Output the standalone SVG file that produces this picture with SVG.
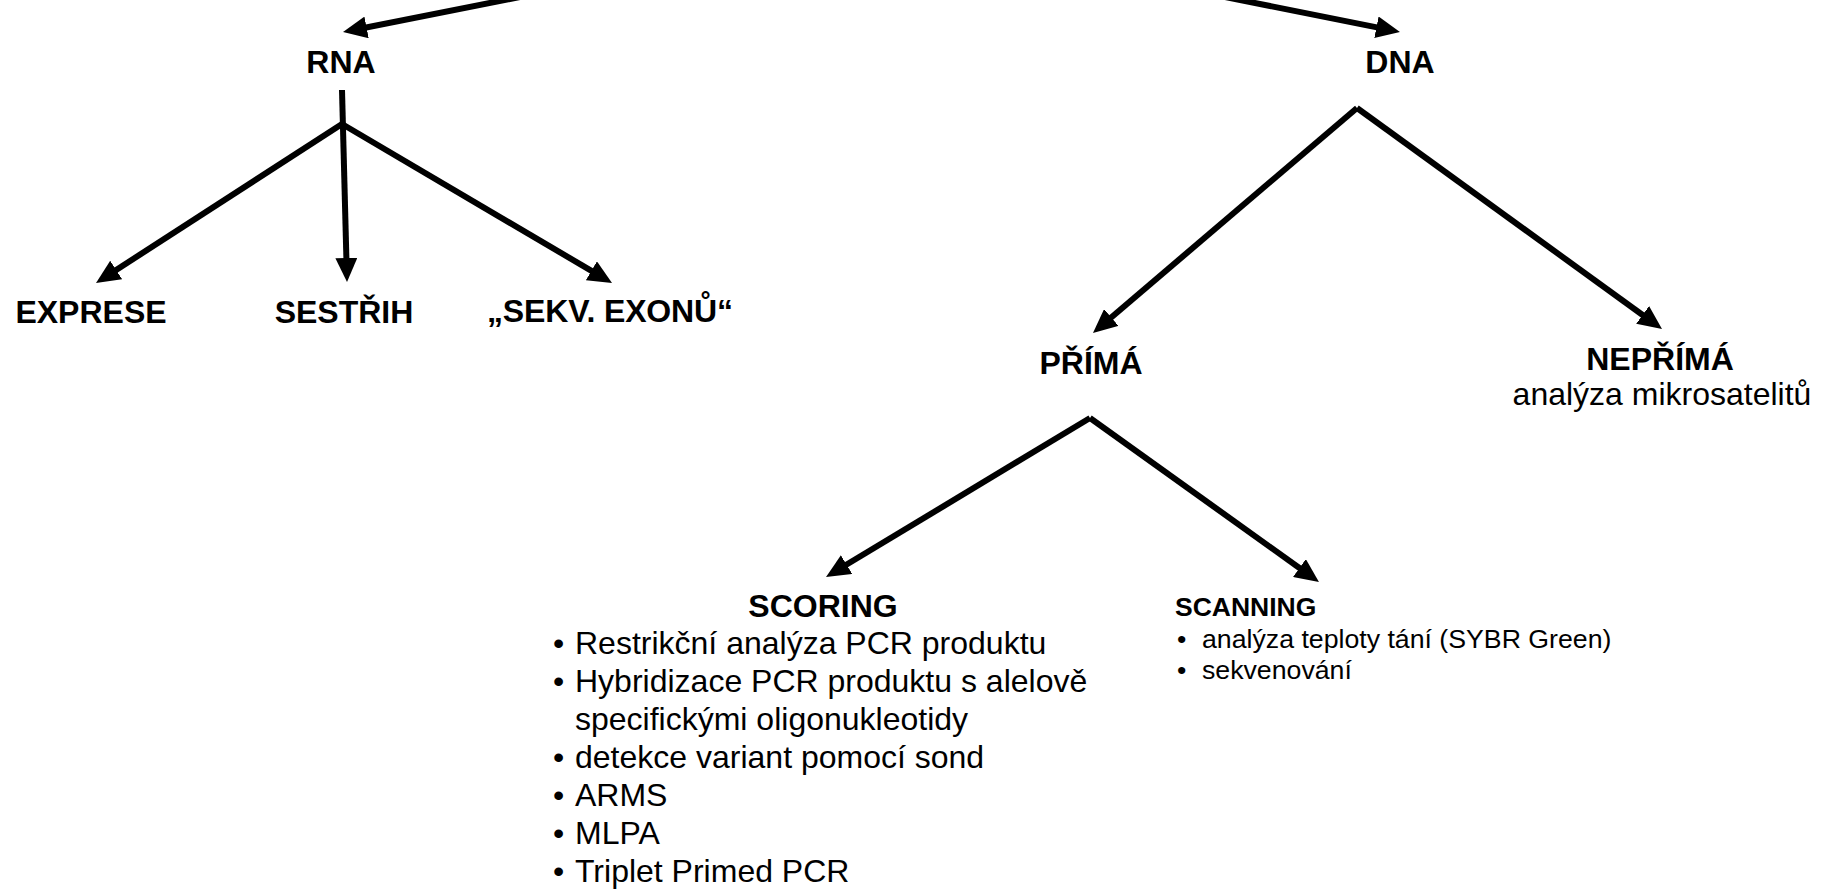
<svg xmlns="http://www.w3.org/2000/svg" width="1824" height="890" viewBox="0 0 1824 890">
<style>
text { font-family: "Liberation Sans", Arial, sans-serif; fill: #000; }
.h { font-size: 32px; font-weight: bold; text-anchor: middle; }
.t { font-size: 32px; }
.tm { font-size: 32px; text-anchor: middle; }
.sh { font-size: 26.5px; font-weight: bold; }
.s { font-size: 26.7px; }
.c line { stroke: #000; stroke-width: 6; fill: none; marker-end: url(#ah); }
</style>
<defs>
<marker id="ah" markerUnits="userSpaceOnUse" viewBox="0 0 24 22" refX="12" refY="11" markerWidth="24" markerHeight="22" orient="auto">
<path d="M0,0 L24,11 L0,22 z" fill="#000"/>
</marker>
</defs>
<rect width="1824" height="890" fill="#fff"/>
<g id="connectors" class="c">
<line x1="520" y1="-3" x2="354.8" y2="29.7"/>
<line x1="1225" y1="-3" x2="1388.2" y2="29.6"/>
<line x1="342" y1="90" x2="346.7" y2="270"/>
<line x1="342" y1="124" x2="106.1" y2="276.5"/>
<line x1="342" y1="124" x2="601.7" y2="276.9"/>
<line x1="1357" y1="108" x2="1102.1" y2="325.2"/>
<line x1="1357" y1="108" x2="1652.3" y2="322"/>
<line x1="1090" y1="418" x2="836.3" y2="570.8"/>
<line x1="1090" y1="418" x2="1309.2" y2="575"/>
</g>
<g id="n-rna"><text class="h" x="341" y="73">RNA</text></g>
<g id="n-dna"><text class="h" x="1400" y="73">DNA</text></g>
<g id="n-exprese"><text class="h" x="91" y="323">EXPRESE</text></g>
<g id="n-sestrih"><text class="h" x="344" y="323">SESTŘIH</text></g>
<g id="n-sekv"><text class="h" x="610" y="322" textLength="246" lengthAdjust="spacing">„SEKV. EXONŮ“</text></g>
<g id="n-prima"><text class="h" x="1091" y="374">PŘÍMÁ</text></g>
<g id="n-neprima">
<text class="h" x="1660" y="370">NEPŘÍMÁ</text>
<text class="tm" x="1662" y="405">analýza mikrosatelitů</text>
</g>
<g id="n-scoring">
<text class="h" x="823" y="617">SCORING</text>
<text class="t" x="553" y="654">•</text><text class="t" x="575" y="654">Restrikční analýza PCR produktu</text>
<text class="t" x="553" y="692">•</text><text class="t" x="575" y="692">Hybridizace PCR produktu s alelově</text>
<text class="t" x="575" y="730">specifickými oligonukleotidy</text>
<text class="t" x="553" y="768">•</text><text class="t" x="575" y="768">detekce variant pomocí sond</text>
<text class="t" x="553" y="806">•</text><text class="t" x="575" y="806">ARMS</text>
<text class="t" x="553" y="844">•</text><text class="t" x="575" y="844">MLPA</text>
<text class="t" x="553" y="882">•</text><text class="t" x="575" y="882">Triplet Primed PCR</text>
</g>
<g id="n-scanning">
<text class="sh" x="1175" y="616">SCANNING</text>
<text class="s" x="1177" y="648">•</text><text class="s" x="1202" y="648">analýza teploty tání (SYBR Green)</text>
<text class="s" x="1177" y="679">•</text><text class="s" x="1202" y="679">sekvenování</text>
</g>
</svg>
